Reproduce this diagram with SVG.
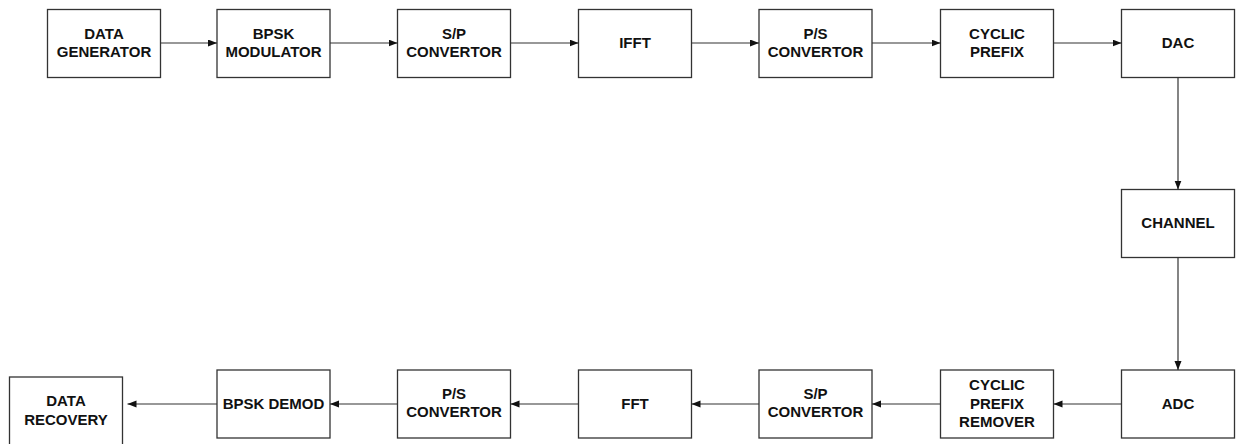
<svg xmlns="http://www.w3.org/2000/svg" width="1236" height="444" viewBox="0 0 1236 444">
<style>
.box{fill:#fff;stroke:#333;stroke-width:1.3}
.lbl{font-family:"Liberation Sans",Arial,sans-serif;font-weight:bold;font-size:15px;fill:#111;text-anchor:middle}
.con{stroke:#333;stroke-width:1.2;fill:none;marker-end:url(#ah)}
</style>
<defs>
<marker id="ah" markerUnits="userSpaceOnUse" markerWidth="10" markerHeight="8" refX="9" refY="3.5" orient="auto">
<path d="M0,0 L9,3.5 L0,7 z" fill="#111"/>
</marker>
</defs>
<rect width="1236" height="444" fill="#fff"/>
<g id="n1"><rect class="box" x="47.5" y="9.5" width="113" height="68"/><text class="lbl" x="104" y="38.5">DATA</text><text class="lbl" x="104" y="56.5">GENERATOR</text></g>
<g id="n2"><rect class="box" x="217" y="9.5" width="113" height="68"/><text class="lbl" x="273.5" y="38.5">BPSK</text><text class="lbl" x="273.5" y="56.5">MODULATOR</text></g>
<g id="n3"><rect class="box" x="397.5" y="9.5" width="113" height="68"/><text class="lbl" x="454" y="38.5">S/P</text><text class="lbl" x="454" y="56.5">CONVERTOR</text></g>
<g id="n4"><rect class="box" x="578.5" y="9.5" width="113" height="68"/><text class="lbl" x="635" y="48">IFFT</text></g>
<g id="n5"><rect class="box" x="759" y="9.5" width="113" height="68"/><text class="lbl" x="815.5" y="38.5">P/S</text><text class="lbl" x="815.5" y="56.5">CONVERTOR</text></g>
<g id="n6"><rect class="box" x="940.5" y="9.5" width="113" height="68"/><text class="lbl" x="997" y="38.5">CYCLIC</text><text class="lbl" x="997" y="56.5">PREFIX</text></g>
<g id="n7"><rect class="box" x="1121.5" y="9.5" width="113" height="68"/><text class="lbl" x="1178" y="48">DAC</text></g>
<g id="n8"><rect class="box" x="1121.5" y="189.5" width="113" height="68"/><text class="lbl" x="1178" y="228">CHANNEL</text></g>
<g id="n9"><rect class="box" x="1121.5" y="370" width="113" height="68"/><text class="lbl" x="1178" y="408.5">ADC</text></g>
<g id="n10"><rect class="box" x="940.5" y="370" width="113" height="68"/><text class="lbl" x="997" y="389.5">CYCLIC</text><text class="lbl" x="997" y="408.5">PREFIX</text><text class="lbl" x="997" y="427">REMOVER</text></g>
<g id="n11"><rect class="box" x="759" y="370" width="113" height="68"/><text class="lbl" x="815.5" y="399">S/P</text><text class="lbl" x="815.5" y="417">CONVERTOR</text></g>
<g id="n12"><rect class="box" x="578.5" y="370" width="113" height="68"/><text class="lbl" x="635" y="408.5">FFT</text></g>
<g id="n13"><rect class="box" x="397.5" y="370" width="113" height="68"/><text class="lbl" x="454" y="399">P/S</text><text class="lbl" x="454" y="417">CONVERTOR</text></g>
<g id="n14"><rect class="box" x="217" y="370" width="113" height="68"/><text class="lbl" x="273.5" y="408.5">BPSK DEMOD</text></g>
<g id="n15"><rect class="box" x="9.5" y="377" width="113" height="72"/><text class="lbl" x="66" y="405.5">DATA</text><text class="lbl" x="66" y="424.5">RECOVERY</text></g>
<g id="connectors">
<line class="con" x1="160.5" y1="43" x2="217" y2="43"/>
<line class="con" x1="330" y1="43" x2="397.5" y2="43"/>
<line class="con" x1="510.5" y1="43" x2="578.5" y2="43"/>
<line class="con" x1="691.5" y1="43" x2="759" y2="43"/>
<line class="con" x1="872" y1="43" x2="940.5" y2="43"/>
<line class="con" x1="1053.5" y1="43" x2="1121.5" y2="43"/>
<line class="con" x1="1178" y1="77.5" x2="1178" y2="189.5"/>
<line class="con" x1="1178" y1="257.5" x2="1178" y2="370"/>
<line class="con" x1="1121.5" y1="404" x2="1053.5" y2="404"/>
<line class="con" x1="940.5" y1="404" x2="872" y2="404"/>
<line class="con" x1="759" y1="404" x2="691.5" y2="404"/>
<line class="con" x1="578.5" y1="404" x2="510.5" y2="404"/>
<line class="con" x1="397.5" y1="404" x2="330" y2="404"/>
<line class="con" x1="217" y1="404" x2="127.5" y2="404"/>
</g>
</svg>
